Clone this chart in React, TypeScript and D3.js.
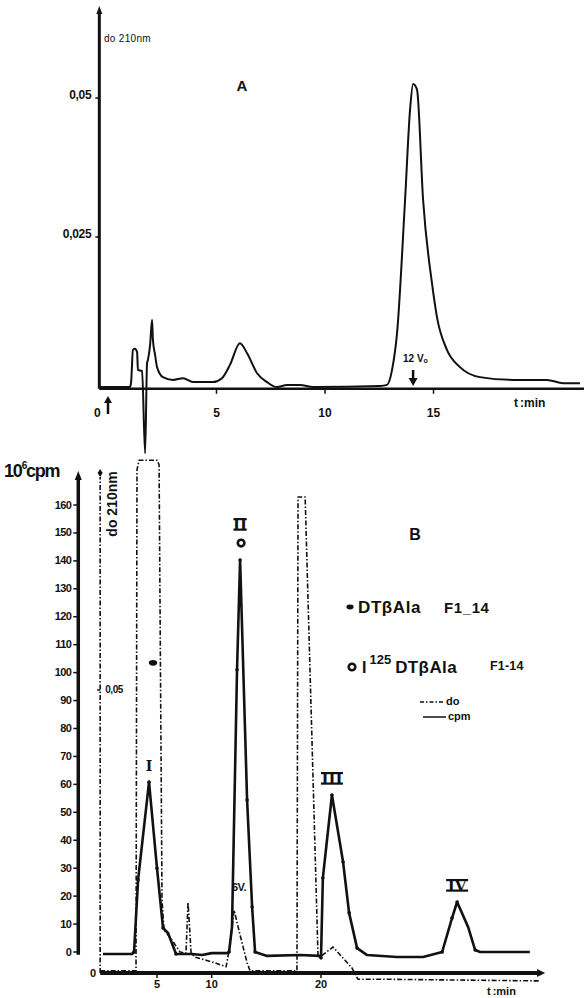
import * as d3 from 'd3';

// Panel A: absorbancia a 210 nm frente al tiempo (min)
const trazaA: [number, number][] = [
  [-0.4, -0.002], [1.0, -0.002], [1.06, -0.0013], [1.15, 0.0047], [1.24, 0.0049],
  [1.34, 0.0043], [1.38, 0.0011], [1.57, 0.0009], [1.71, -0.0139], [1.8, 0.0023],
  [1.84, 0.0029], [1.94, 0.0056], [2.03, 0.0101], [2.07, 0.0065], [2.17, 0.0038],
  [2.26, 0.0016], [2.53, -0.0002], [3.0, -0.0007], [3.46, -0.0004], [3.92, -0.0011],
  [4.84, -0.0011], [5.25, -0.0004], [5.62, 0.002], [6.08, 0.0059], [6.41, 0.0041],
  [6.87, 0.0005], [7.33, -0.0011], [7.79, -0.002], [8.25, -0.0016], [8.85, -0.0016],
  [9.45, -0.002], [12.53, -0.0018], [12.86, -0.0016], [13.09, 0.0011], [13.32, 0.0077],
  [13.69, 0.0317], [13.92, 0.0479], [14.06, 0.0525], [14.24, 0.0515], [14.52, 0.0317],
  [14.93, 0.0167], [15.16, 0.0106], [15.62, 0.0047], [16.22, 0.0016], [17.14, -0.0002],
  [18.66, -0.0007], [20.23, -0.0007], [20.97, -0.0013], [21.75, -0.0013],
];
const ticksAy = [0.025, 0.05];
const etiquetasAy = ['0,025', '0,05'];
const ticksAx = [0, 5, 10, 15];

// Panel B: cpm (10^6) y absorbancia (do) frente al tiempo
// [t, cpm, punto]
const trazaCpm: [number, number, number][] = [
  [0.06, -0.7, 0], [2.72, -0.7, 0], [2.9, 0, 1], [3.27, 25.8, 1], [4.27, 60.8, 1],
  [5.0, 30, 1], [5.55, 8.6, 1], [6.01, 6.8, 0], [6.74, -0.7, 1], [8.2, -0.7, 0],
  [9.12, -1.1, 0], [10.0, -0.4, 0], [11.4, -0.4, 0], [11.59, 0, 1], [11.86, 9, 0],
  [12.32, 101, 1], [12.6, 140.3, 1], [13.24, 54.4, 1], [13.7, 16.1, 1], [13.97, 0, 1],
  [15.07, -1.4, 0], [18.08, -1.1, 0], [19.9, -1.4, 0], [20.0, -2.1, 1], [20.17, 26.5, 1],
  [21.0, 56.2, 1], [22.02, 32.2, 1], [22.57, 14, 1], [23.3, 1.4, 1], [24.22, -1.1, 0],
  [26.96, -1.8, 0], [29.34, -1.8, 0], [31.08, 0, 1], [31.99, 12.2, 1], [32.45, 17.9, 1],
  [33.46, 8.9, 0], [34.1, 0.7, 1], [34.56, 0, 0], [39.1, 0, 0],
];
const trazaDo: [number, number][] = [
  [-0.2, 0.0004], [3.08, 0.0004], [3.17, 0.0889], [3.36, 0.0906], [5.0, 0.0906],
  [5.19, 0.0898], [5.46, 0.0129], [5.64, 0.0076], [6.38, 0.0058], [7.11, 0.0037],
  [7.65, 0.0035], [7.84, 0.0125], [8.12, 0.0035], [8.48, 0.0028], [10.13, 0.0019],
  [11.32, 0.0011], [11.68, 0.0049], [12.05, 0.0111], [12.6, 0.0067], [13.24, 0.0018],
  [13.51, 0.0004], [17.8, 0.0004], [17.9, 0.0841], [18.55, 0.0841], [19.73, 0.0028],
  [19.9, 0.0028], [21.1, 0.0046], [22.83, 0.0009], [23.38, -0.0011], [25.67, -0.0011],
  [40.04, -0.0014],
];
const ticksCpm = d3.range(0, 161, 10);
const ticksBx = [5, 10, 20];
const ticksDo = [0.05];
const etiquetasDo = ['0,05'];

// Picos marcados
const picos = [
  { nombre: 'I', t: 4.27, cpm: 60.8 },
  { nombre: 'II', t: 12.6, cpm: 140.3 },
  { nombre: 'III', t: 21.0, cpm: 56.2 },
  { nombre: 'IV', t: 32.45, cpm: 17.9 },
];
const anchoRomano: Record<string, number> = { I: 0, II: 13, III: 22, IV: 22 };

const estrecha = "'Liberation Sans Narrow', 'Liberation Sans', Arial, sans-serif";
const normal = "'Liberation Sans', Arial, sans-serif";
const romana = "'DejaVu Serif', 'Liberation Serif', serif";
const dashDo = '5 2 1.5 2';

export default function App() {
  const xA = d3.scaleLinear().domain([0, 15]).range([108, 433.5]);
  const yA = d3.scaleLinear().domain([0, 0.05]).range([376, 98]);
  const xB = d3.scaleLinear().domain([5, 20]).range([157, 321]);
  const yCpm = d3.scaleLinear().domain([0, 160]).range([952, 505]);
  const yDo = d3.scaleLinear().domain([0, 0.05]).range([973, 690]);

  const lineaA = d3.line<[number, number]>().x(d => xA(d[0])).y(d => yA(d[1])).curve(d3.curveMonotoneX);
  const lineaCpm = d3.line<[number, number, number]>().x(d => xB(d[0])).y(d => yCpm(d[1]));
  const lineaDo = d3.line<[number, number]>().x(d => xB(d[0])).y(d => yDo(d[1]));

  // ejes A
  const ejeAy = yA(-0.0023);
  const ejeAx0 = xA(-0.4);
  // ejes B
  const ejeCpmX = xB(-2.2);
  const ejeDoX = xB(-0.2);
  const ejeBy = yDo(0);
  const finBx = xB(40.5);

  const p = (n: string) => picos.find(d => d.nombre === n)!;

  return (
    <svg width={586} height={998} style={{ position: 'absolute', left: 0, top: 0, background: '#fff' }}
      fontFamily={estrecha} fontWeight="bold" fill="#111">
      {/* ---------- Panel A ---------- */}
      <line x1={ejeAx0} x2={ejeAx0} y1={ejeAy} y2={12} stroke="#111" strokeWidth={3} />
      <path d={`M${ejeAx0 - 3},${14} L${ejeAx0},${6} L${ejeAx0 + 3},${14} Z`} fill="#111" />
      <line x1={ejeAx0} x2={584} y1={ejeAy} y2={ejeAy} stroke="#111" strokeWidth={2.5} />
      {ticksAy.map((v, i) => (
        <g key={v}>
          <line x1={ejeAx0 - 4} x2={ejeAx0} y1={yA(v)} y2={yA(v)} stroke="#111" strokeWidth={1.5} />
          <text x={ejeAx0 - 8} y={yA(v) + 1} textAnchor="end" fontFamily={normal} fontSize={12} letterSpacing={-0.3}>{etiquetasAy[i]}</text>
        </g>
      ))}
      {ticksAx.filter(t => t > 0).map(t => (
        <line key={t} x1={xA(t)} x2={xA(t)} y1={ejeAy} y2={ejeAy + 5} stroke="#111" strokeWidth={1.5} />
      ))}
      {ticksAx.map(t => (
        <text key={t} x={t === 0 ? ejeAx0 - 2 : xA(t)} y={417} textAnchor="middle" fontFamily={normal} fontSize={12}>{t}</text>
      ))}
      <text x={514} y={407} fontFamily={normal} fontSize={12}>t<tspan dx={2}>:min</tspan></text>
      <text x={104} y={42} fontSize={10} fontWeight="normal" letterSpacing={0.3}>do  210nm</text>
      <text x={242} y={91} textAnchor="middle" fontFamily={normal} fontSize={15}>A</text>
      {/* flecha de inyección */}
      <line x1={xA(0)} x2={xA(0)} y1={414} y2={401} stroke="#111" strokeWidth={2.5} />
      <path d={`M${xA(0) - 4},${403} L${xA(0)},${396} L${xA(0) + 4},${403} Z`} fill="#111" />
      {/* 12 Vo */}
      <text x={403} y={362} fontFamily={normal} fontSize={10}>12 V<tspan fontSize={7} dy={1}>o</tspan></text>
      <line x1={xA(14.06)} x2={xA(14.06)} y1={370} y2={380} stroke="#111" strokeWidth={2.5} />
      <path d={`M${xA(14.06) - 4.5},${378} L${xA(14.06)},${386} L${xA(14.06) + 4.5},${378} Z`} fill="#111" />
      <path d={lineaA(trazaA) || ''} fill="none" stroke="#111" strokeWidth={2} strokeLinejoin="round" />

      {/* ---------- Panel B ---------- */}
      {/* eje cpm */}
      <line x1={ejeCpmX} x2={ejeCpmX} y1={yCpm(-1)} y2={478} stroke="#111" strokeWidth={3.5} />
      <path d={`M${ejeCpmX - 3.5},${480} L${ejeCpmX},${471} L${ejeCpmX + 3.5},${480} Z`} fill="#111" />
      {ticksCpm.map(v => (
        <g key={v}>
          <line x1={ejeCpmX - 5} x2={ejeCpmX} y1={yCpm(v)} y2={yCpm(v)} stroke="#111" strokeWidth={1.5} />
          <text x={ejeCpmX - 7} y={yCpm(v) + 3.5} textAnchor="end" fontSize={11} letterSpacing={-0.6}>{v}</text>
        </g>
      ))}
      <text x={4} y={477} fontSize={18} letterSpacing={-1.2}>10<tspan fontSize={10} dy={-8}>6</tspan><tspan dy={8}>cpm</tspan></text>

      {/* eje do */}
      <line x1={ejeDoX} x2={ejeDoX} y1={ejeBy} y2={477} stroke="#111" strokeWidth={1.6} strokeDasharray={dashDo} />
      <path d={`M${ejeDoX},${469} L${ejeDoX + 2.5},${473} L${ejeDoX},${477} L${ejeDoX - 2.5},${473} Z`} fill="#111" />
      {ticksDo.map((v, i) => (
        <g key={v}>
          <line x1={ejeDoX - 3} x2={ejeDoX} y1={yDo(v)} y2={yDo(v)} stroke="#111" strokeWidth={1.5} />
          <text x={ejeDoX + 5} y={yDo(v) + 3} fontSize={10} letterSpacing={-0.4}>{etiquetasDo[i]}</text>
        </g>
      ))}
      <text transform={`translate(117,504) rotate(-90)`} textAnchor="middle" fontSize={14}>do 210nm</text>

      {/* eje tiempo B */}
      <line x1={ejeDoX} x2={finBx - 6} y1={ejeBy} y2={ejeBy} stroke="#111" strokeWidth={4} />
      <path d={`M${finBx - 8},${ejeBy - 4} L${finBx},${ejeBy} L${finBx - 8},${ejeBy + 4} Z`} fill="#111" />
      {ticksBx.map(t => (
        <g key={t}>
          <line x1={xB(t)} x2={xB(t)} y1={ejeBy} y2={ejeBy + 5} stroke="#111" strokeWidth={1.5} />
          <text x={xB(t)} y={988} textAnchor="middle" fontFamily={normal} fontSize={11}>{t}</text>
        </g>
      ))}
      <text x={ejeDoX - 7} y={977} textAnchor="middle" fontFamily={normal} fontSize={11}>0</text>
      <text x={487} y={995} fontFamily={normal} fontSize={11}>t<tspan dx={2}>:min</tspan></text>

      {/* trazas */}
      <path d={lineaDo(trazaDo) || ''} fill="none" stroke="#111" strokeWidth={1.6} strokeDasharray={dashDo} strokeLinejoin="round" />
      <path d={lineaCpm(trazaCpm) || ''} fill="none" stroke="#111" strokeWidth={2.6} strokeLinejoin="round" />
      {trazaCpm.filter(d => d[2]).map((d, i) => (
        <circle key={i} cx={xB(d[0])} cy={yCpm(d[1])} r={1.8} fill="#111" />
      ))}

      {/* etiquetas de picos */}
      {picos.map(d => {
        const cx = xB(d.t);
        const base = yCpm(d.cpm) - (d.nombre === 'II' ? 30 : 11);
        const w = anchoRomano[d.nombre];
        return (
          <g key={d.nombre}>
            <text x={cx} y={base} textAnchor="middle" fontFamily={romana}
              fontSize={d.nombre === 'I' ? 14 : 15}>{d.nombre}</text>
            {w > 0 && (
              <>
                <rect x={cx - w / 2} y={base - 12} width={w} height={2.2} fill="#111" />
                <rect x={cx - w / 2} y={base - 1.5} width={w} height={2.2} fill="#111" />
              </>
            )}
          </g>
        );
      })}
      <circle cx={xB(p('II').t) + 1} cy={yCpm(p('II').cpm) - 17} r={3.3} fill="none" stroke="#111" strokeWidth={2.6} />
      <ellipse cx={xB(4.27) + 4} cy={yCpm(103.5)} rx={4.2} ry={2.8} fill="#111" />
      <text x={232} y={891} fontSize={11} letterSpacing={-0.5}>6V.</text>
      <text x={415} y={540} textAnchor="middle" fontFamily={normal} fontSize={16}>B</text>

      {/* leyenda */}
      <g fontFamily={normal}>
        <ellipse cx={350} cy={607} rx={3.6} ry={2.4} fill="#111" />
        <text x={358} y={613} fontSize={17} letterSpacing={0.6}>DTβAla</text>
        <text x={444} y={613} fontSize={15} letterSpacing={0.6}>F1_14</text>
        <circle cx={352} cy={667} r={3.3} fill="none" stroke="#111" strokeWidth={2.6} />
        <text x={362} y={673} fontSize={16}>I<tspan fontSize={13} dy={-9} dx={3}>125</tspan><tspan fontSize={17} dy={9} dx={4} letterSpacing={0.4}>DTβAla</tspan></text>
        <text x={490} y={670} fontSize={12.5} letterSpacing={0.2}>F1-14</text>
        <line x1={420} x2={444} y1={702} y2={702} stroke="#111" strokeWidth={1.5} strokeDasharray="4 2 1.5 2" />
        <text x={446} y={705} fontSize={11}>do</text>
        <line x1={423} x2={446} y1={717} y2={717} stroke="#111" strokeWidth={1.5} />
        <text x={448} y={720} fontSize={11}>cpm</text>
      </g>
    </svg>
  );
}
